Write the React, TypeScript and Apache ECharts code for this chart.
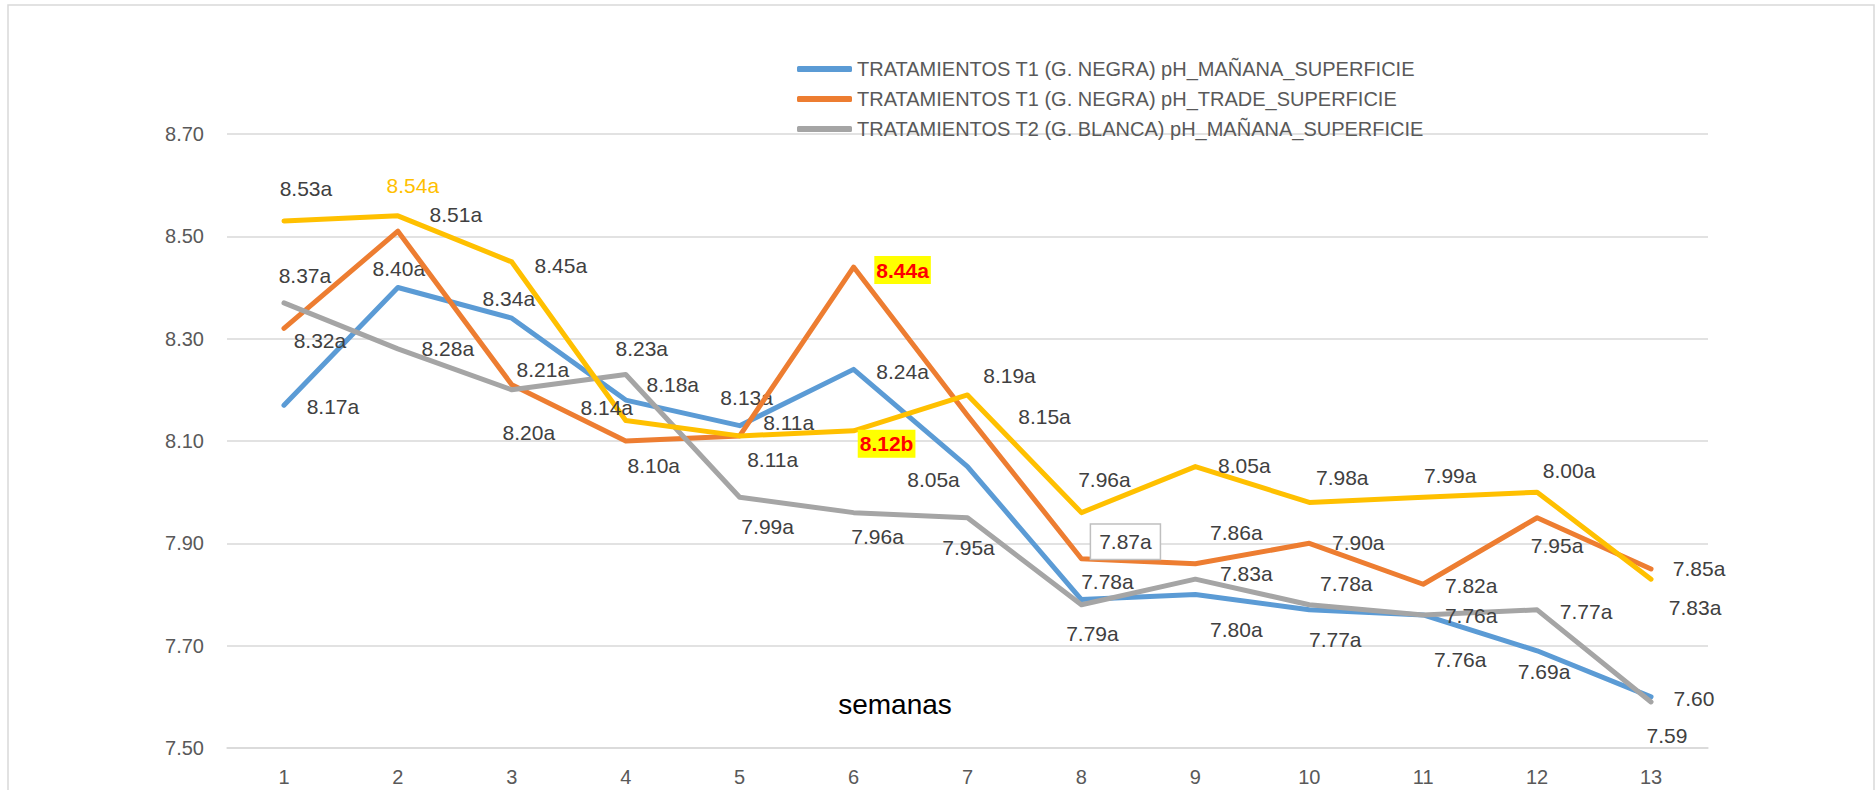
import React, { useEffect, useRef } from "react";
import * as echarts from "echarts";

const weeks = ["1", "2", "3", "4", "5", "6", "7", "8", "9", "10", "11", "12", "13"];

const seriesNames = [
  "TRATAMIENTOS T1 (G. NEGRA) pH_MAÑANA_SUPERFICIE",
  "TRATAMIENTOS T1 (G. NEGRA) pH_TRADE_SUPERFICIE",
  "TRATAMIENTOS T2 (G. BLANCA) pH_MAÑANA_SUPERFICIE",
  "TRATAMIENTOS T2 (G. BLANCA) pH_TARDE_SUPERFICIE",
];

const phT1Manana = [8.17, 8.4, 8.34, 8.18, 8.13, 8.24, 8.05, 7.79, 7.8, 7.77, 7.76, 7.69, 7.6];
const phT1Tarde = [8.32, 8.51, 8.21, 8.1, 8.11, 8.44, 8.15, 7.87, 7.86, 7.9, 7.82, 7.95, 7.85];
const phT2Manana = [8.37, 8.28, 8.2, 8.23, 7.99, 7.96, 7.95, 7.78, 7.83, 7.78, 7.76, 7.77, 7.59];
const phT2Tarde = [8.53, 8.54, 8.45, 8.14, 8.11, 8.12, 8.19, 7.96, 8.05, 7.98, 7.99, 8.0, 7.83];

const lettersT1Manana = ["a", "a", "a", "a", "a", "a", "a", "a", "a", "a", "a", "a", ""];
const lettersT1Tarde = ["a", "a", "a", "a", "a", "a", "a", "a", "a", "a", "a", "a", "a"];
const lettersT2Manana = ["a", "a", "a", "a", "a", "a", "a", "a", "a", "a", "a", "a", ""];
const lettersT2Tarde = ["a", "a", "a", "a", "a", "b", "a", "a", "a", "a", "a", "a", "a"];

const yMin = 7.5;
const yMax = 8.7;
const yStep = 0.2;

// label offsets (px) relative to each point
const offT1Manana = [[49, 1], [1, -19], [-3, -20], [47, -16], [7, -28], [49, 2], [-34, 13], [11, 34], [41, 35], [26, 30], [37, 45], [7, 21], [43, 2]];
const offT1Tarde = [[36, 12], [58, -17], [31, -15], [28, 24], [33, 24], [49, 3], [77, 1], [44, -17], [41, -31], [49, -1], [48, 1], [20, 28], [48, 0]];
const offT2Manana = [[21, -27], [50, 0], [17, 43], [16, -26], [28, 29], [24, 24], [1, 30], [26, -23], [51, -6], [37, -21], [48, 1], [49, 2], [16, 34]];
const offT2Tarde = [[22, -32], [15, -30], [49, 4], [-19, -13], [49, -13], [33, 13], [42, -19], [23, -33], [49, -1], [33, -25], [27, -22], [32, -22], [44, 28]];

const colors = ["#5B9BD5", "#ED7D31", "#A5A5A5", "#FFC000"];
const FONT = "'Liberation Sans', Arial, sans-serif";

const highlight = {
  color: "#FF0000",
  fontWeight: "bold",
  backgroundColor: "#FFFF00",
  padding: [4, 2, 3, 2],
};

const specialLabels: Record<string, any> = {
  "3-1": { color: "#FFC000" },
  "1-5": highlight,
  "3-5": highlight,
  "1-7": { backgroundColor: "#FFFFFF", borderColor: "#BFBFBF", borderWidth: 1.5, padding: [7, 8, 6, 8] },
};

function buildSeries(idx: number, values: number[], letters: string[], offs: number[][]) {
  return {
    name: seriesNames[idx],
    type: "line",
    data: values.map((v, i) => ({
      value: v,
      label: {
        offset: offs[i],
        formatter: v.toFixed(2) + letters[i],
        ...(specialLabels[idx + "-" + i] || {}),
      },
    })),
    symbol: "circle",
    symbolSize: 1,
    showSymbol: true,
    showAllSymbol: true,
    itemStyle: { color: colors[idx] },
    lineStyle: { color: colors[idx], width: 5, cap: "round", join: "round" },
    label: {
      show: true,
      position: "inside",
      color: "#404040",
      fontSize: 21,
      fontFamily: FONT,
    },
    emphasis: { disabled: true },
    z: 2 + idx,
  };
}

export default function App() {
  const ref = useRef<HTMLDivElement>(null);
  useEffect(() => {
    if (!ref.current) return;
    const chart = echarts.init(ref.current, null, { renderer: "svg" });
    chart.setOption({
      animation: false,
      backgroundColor: "#FFFFFF",
      textStyle: { fontFamily: FONT },
      grid: { left: 227, right: 168, top: 134, bottom: 42, containLabel: false },
      legend: {
        data: seriesNames.slice(0, 3),
        orient: "vertical",
        left: 792,
        top: 54,
        itemWidth: 55,
        itemHeight: 6,
        itemGap: 10,
        icon: "roundRect",
        selectedMode: false,
        textStyle: { color: "#595959", fontSize: 20, lineHeight: 20, fontFamily: FONT },
      },
      xAxis: {
        type: "category",
        data: weeks,
        boundaryGap: true,
        axisLine: { show: true, lineStyle: { color: "#D9D9D9", width: 1.5 } },
        axisTick: { show: false },
        axisLabel: { color: "#595959", fontSize: 20, margin: 19, fontFamily: FONT },
      },
      yAxis: {
        type: "value",
        min: yMin,
        max: yMax,
        interval: yStep,
        axisLine: { show: false },
        axisTick: { show: false },
        axisLabel: {
          color: "#595959",
          fontSize: 20,
          margin: 23,
          fontFamily: FONT,
          formatter: (v: number) => v.toFixed(2),
        },
        splitLine: { lineStyle: { color: "#D9D9D9", width: 1.5 } },
      },
      graphic: [
        {
          type: "rect",
          shape: { x: 8, y: 5, width: 1866, height: 820 },
          style: { fill: "none", stroke: "#D9D9D9", lineWidth: 1.5 },
          silent: true,
        },
        {
          type: "text",
          x: 895,
          y: 704,
          style: {
            text: "semanas",
            fill: "#000000",
            fontSize: 28,
            fontFamily: FONT,
            textAlign: "center",
            textVerticalAlign: "middle",
          },
          silent: true,
        },
      ],
      series: [
        buildSeries(0, phT1Manana, lettersT1Manana, offT1Manana),
        buildSeries(1, phT1Tarde, lettersT1Tarde, offT1Tarde),
        buildSeries(2, phT2Manana, lettersT2Manana, offT2Manana),
        buildSeries(3, phT2Tarde, lettersT2Tarde, offT2Tarde),
      ],
    });
    return () => chart.dispose();
  }, []);
  return (
    <div
      ref={ref}
      style={{ position: "absolute", left: 0, top: 0, width: 1876, height: 790 }}
    />
  );
}
